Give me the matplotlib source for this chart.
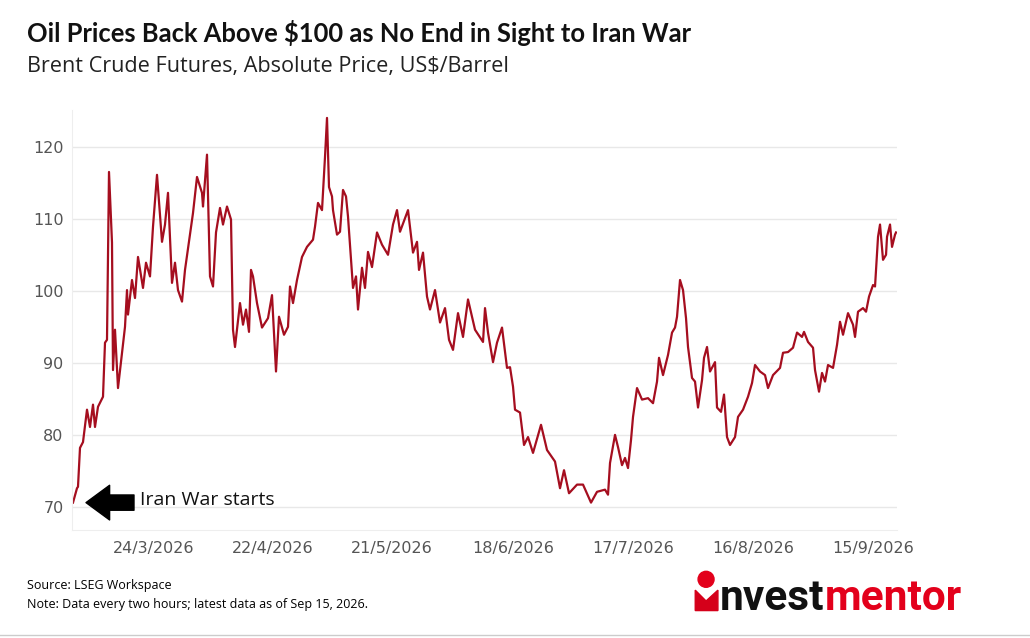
import matplotlib
matplotlib.use("Agg")
import matplotlib.pyplot as plt
from matplotlib.patches import Ellipse, Polygon
from matplotlib.lines import Line2D

# (period, price): period = index of the 2-hourly sample since the start of the war
readings = [(1,70.6),(5,72.6),(6,72.8),(8,78.2),(11,79.0),(15,83.5),(18,81.1),(21,84.2),(23,81.1),(26,83.9),
    (31,85.3),(33,92.8),(35,93.2),(37,116.5),(40,106.7),(41,89.0),(43,94.6),(46,86.5),(50,91.4),(53,95.0),
    (55,100.1),(56,96.7),(60,101.5),(63,99.0),(66,104.7),(71,100.4),(74,103.9),(78,102.0),(81,108.9),(85,116.1),
    (90,106.8),(93,109.2),(96,113.6),(100,101.1),(103,103.9),(106,100.1),(110,98.5),(113,102.9),(118,107.8),
    (121,110.8),(125,115.8),(130,113.6),(131,111.7),(135,118.9),(138,102.0),(141,100.6),(144,108.1),(148,111.5),
    (151,109.2),(155,111.7),(159,109.9),(161,94.6),(163,92.2),(168,98.3),(171,95.3),(174,97.4),(177,94.3),
    (179,102.9),(181,102.0),(185,98.3),(190,94.9),(196,96.2),(200,99.4),(204,88.8),(207,96.4),(212,93.9),
    (216,95.0),(218,100.6),(221,98.3),(225,101.5),(230,104.7),(235,106.1),(241,107.1),(243,108.9),(246,112.2),
    (250,111.2),(253,118.6),(255,124.0),(257,114.4),(260,113.1),(261,111.2),(265,107.8),(268,108.2),(271,114.0),
    (274,113.1),(276,110.3),(281,100.4),(284,102.0),(286,97.4),(290,103.2),(293,100.4),(296,105.4),(300,103.3),
    (305,108.1),(310,106.4),(316,105.0),(321,109.2),(325,111.2),(328,108.2),(336,111.2),(341,105.3),(345,106.8),
    (347,102.9),(351,105.3),(355,99.2),(358,97.4),(363,100.1),(368,95.6),(373,97.6),(377,93.2),(381,91.8),
    (386,96.9),(391,93.6),(396,98.8),(403,94.6),(411,92.9),(413,97.6),(416,94.2),(421,90.1),(425,92.8),
    (430,94.9),(435,89.3),(438,89.4),(441,86.7),(443,83.5),(448,83.1),(452,78.6),(456,79.7),(461,77.5),
    (469,81.4),(475,77.9),(483,76.3),(488,72.6),(492,75.1),(497,71.9),(505,73.1),(511,73.1),(519,70.6),
    (525,72.1),(533,72.4),(536,71.7),(538,76.1),(543,80.0),(546,78.3),(550,75.8),(553,76.8),(556,75.4),
    (559,79.3),(561,82.5),(565,86.5),(570,84.9),(576,85.1),(581,84.4),(585,87.4),(587,90.7),(591,88.3),
    (596,91.1),(600,94.2),(603,94.9),(605,96.4),(608,101.5),(611,100.1),(614,96.2),(616,92.2),(620,87.9),
    (623,87.4),(626,83.8),(630,87.6),(632,90.7),(635,92.2),(638,88.8),(643,90.1),(645,83.8),(649,83.2),
    (652,85.6),(655,79.7),(658,78.6),(663,79.7),(666,82.5),(671,83.5),(676,85.3),(680,87.2),(683,89.7),
    (688,88.8),(693,88.3),(696,86.5),(701,88.3),(708,89.3),(711,91.4),(716,91.5),(721,92.1),(725,94.2),
    (730,93.6),(732,94.3),(736,92.9),(741,92.1),(743,89.0),(747,86.0),(750,88.6),(753,87.4),(756,89.7),
    (761,89.3),(765,92.5),(768,95.7),(771,93.9),(776,96.9),(781,95.3),(783,93.6),(786,97.1),(791,97.6),
    (794,97.1),(797,99.2),(801,100.8),(803,100.6),(806,107.5),(808,109.2),(811,104.3),(814,105.0),(815,107.5),
    (818,109.2),(820,106.1),(823,107.8),(824,108.1)]
period = [p for p, _ in readings]
price = [v for _, v in readings]

tick_pos = [82,201,320,441,561,681,801]
tick_labels = ["24/3/2026","22/4/2026","21/5/2026","18/6/2026","17/7/2026","16/8/2026","15/9/2026"]
yticks = [70,80,90,100,110,120]

fig = plt.figure(figsize=(10.3,6.38), dpi=100)
ax = fig.add_axes([0.0699, 0.1693, 0.8010, 0.6583])
ax.plot(period, price, color="#a50e1f", lw=1.6, solid_joinstyle="round")
ax.set_xlim(0, 825)
ax.set_ylim(66.8, 125.1)
ax.set_yticks(yticks)
ax.set_xticks(tick_pos)
ax.set_xticklabels(tick_labels)
ax.grid(axis="y", color="#e8e8e8", lw=1)
ax.set_axisbelow(True)
for s in ["top","right"]:
    ax.spines[s].set_visible(False)
ax.spines["left"].set_color("#eeeeee")
ax.spines["bottom"].set_color("#eeeeee")
ax.tick_params(length=0, labelsize=11.5, labelcolor="#555555", pad=6)
ax.tick_params(axis="x", pad=8)

ax.annotate("", xy=(14, 70.6), xytext=(62, 70.6),
            arrowprops=dict(facecolor="black", edgecolor="black", width=11, headwidth=25, headlength=17))
ax.text(68, 70.9, "Iran War starts", fontsize=14, va="center", color="#111111", family="Open Sans")

fig.text(0.026, 0.948, "Oil Prices Back Above $100 as No End in Sight to Iran War", fontsize=18.4,
         fontweight="bold", family="Lato", color="#111111", va="center")
fig.text(0.026, 0.895, "Brent Crude Futures, Absolute Price, US$/Barrel", fontsize=15.6, family="Open Sans",
         color="#222222", va="center")
fig.text(0.026, 0.083, "Source: LSEG Workspace", fontsize=9, family="Open Sans", va="center")
fig.text(0.026, 0.053, "Note: Data every two hours; latest data as of Sep 15, 2026.", fontsize=9, family="Open Sans", va="center")

# logo
fig.add_artist(Ellipse((0.6855, 0.092), 0.0155, 0.0155*1030/638, transform=fig.transFigure, color="#e3001b"))
fig.add_artist(Polygon([[0.675,0.075],[0.6855,0.058],[0.697,0.075],[0.697,0.043],[0.675,0.043]],
                       closed=True, transform=fig.transFigure, color="#d5001a"))
t1 = fig.text(0.699, 0.062, "nvest", fontsize=30.5, fontweight="bold", family="Roboto", color="#111111", va="center")
fig.canvas.draw()
bb = t1.get_window_extent().transformed(fig.transFigure.inverted())
fig.text(bb.x1, 0.062, "mentor", fontsize=30.5, fontweight="bold", family="Roboto", color="#e3001b", va="center")

fig.lines.append(Line2D([0,1],[0.004,0.004], transform=fig.transFigure, color="#cccccc", lw=1))
fig.savefig("out.png", dpi=100)
